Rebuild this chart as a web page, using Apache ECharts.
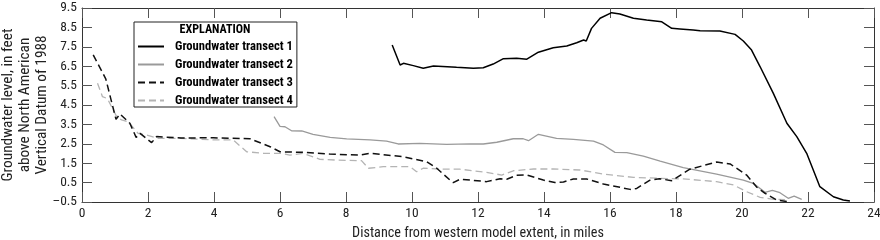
<!DOCTYPE html>
<html><head><meta charset="utf-8">
<script src="https://cdn.jsdelivr.net/npm/echarts@6/dist/echarts.min.js"></script>
<style>html,body{margin:0;padding:0;background:#fff}#c{width:880px;height:240px}</style>
</head><body><div id="c"></div>
<script>
const seriesNames = ['Groundwater transect 1','Groundwater transect 2','Groundwater transect 3','Groundwater transect 4'];
const transect1 = [[9.40,7.59],[9.64,6.56],[9.74,6.65],[10.04,6.53],[10.34,6.39],[10.65,6.51],[11.35,6.44],[11.86,6.39],[12.16,6.42],[12.46,6.61],[12.77,6.89],[13.17,6.91],[13.48,6.86],[13.83,7.22],[14.28,7.45],[14.69,7.54],[14.99,7.71],[15.20,7.85],[15.28,7.80],[15.44,8.45],[15.70,8.97],[16.05,9.26],[16.30,9.19],[16.71,8.97],[17.11,8.88],[17.57,8.79],[17.87,8.45],[18.12,8.42],[18.52,8.37],[18.73,8.33],[19.33,8.31],[19.79,8.14],[20.04,7.80],[20.29,7.33],[20.55,6.47],[20.95,5.10],[21.36,3.56],[21.66,2.87],[21.96,2.01],[22.36,0.29],[22.77,-0.23],[23.07,-0.40],[23.27,-0.45]];
const transect2 = [[5.82,3.90],[6.00,3.40],[6.15,3.38],[6.35,3.17],[6.66,3.16],[7.00,2.99],[7.52,2.83],[8.02,2.75],[8.73,2.70],[9.23,2.64],[9.58,2.49],[10.24,2.52],[11.05,2.47],[11.76,2.50],[12.16,2.49],[12.57,2.58],[13.07,2.76],[13.37,2.76],[13.53,2.66],[13.83,2.99],[14.38,2.78],[14.89,2.73],[15.50,2.64],[15.80,2.44],[16.15,2.06],[16.51,2.04],[17.01,1.87],[17.52,1.61],[18.22,1.27],[19.23,0.94],[20.04,0.63],[20.34,0.46],[20.70,0.00],[20.92,0.10],[21.15,-0.02],[21.40,-0.31],[21.58,-0.20],[21.81,-0.36]];
const transect3 = [[0.34,7.08],[0.72,5.85],[1.03,3.76],[1.15,4.04],[1.45,3.56],[1.64,2.83],[1.76,3.04],[2.11,2.56],[2.26,2.87],[3.00,2.80],[3.98,2.81],[5.09,2.76],[5.70,2.35],[6.00,2.09],[6.70,2.06],[7.50,1.97],[8.42,1.92],[8.73,2.01],[9.74,1.83],[10.44,1.58],[10.75,1.24],[11.15,0.63],[11.25,0.50],[11.45,0.67],[11.76,0.63],[12.26,0.55],[12.67,0.70],[12.87,0.67],[13.17,0.88],[13.48,0.89],[13.98,0.63],[14.33,0.50],[14.59,0.53],[14.89,0.69],[15.29,0.69],[15.80,0.43],[16.61,0.15],[16.81,0.20],[17.20,0.62],[17.50,0.70],[17.87,0.60],[18.42,1.19],[19.23,1.56],[19.64,1.46],[20.14,0.89],[20.45,0.26],[20.70,-0.05],[21.05,-0.40],[21.40,-0.48]];
const transect4 = [[0.47,5.62],[0.62,4.93],[0.77,4.83],[1.05,3.90],[1.20,3.73],[1.40,3.64],[1.70,3.04],[1.96,2.95],[2.31,2.78],[2.97,2.78],[3.98,2.70],[4.58,2.70],[4.99,2.09],[5.50,2.01],[6.00,2.01],[6.30,1.92],[6.70,2.01],[7.21,1.70],[7.72,1.66],[8.47,1.63],[8.68,1.24],[9.13,1.32],[9.94,1.32],[10.14,1.06],[10.34,1.24],[10.95,1.19],[11.45,1.19],[12.26,1.03],[12.72,0.89],[13.07,1.11],[13.68,1.20],[14.28,1.20],[15.09,1.15],[15.80,0.94],[16.71,0.77],[17.52,0.72],[18.22,0.69],[19.23,0.55],[19.74,0.38],[20.14,0.03],[20.55,-0.26],[20.95,-0.36],[21.30,-0.38]];
const yTickValues = [-0.5,0.5,1.5,2.5,3.5,4.5,5.5,6.5,7.5,8.5,9.5];
const yTickLabels = ['\u20130.5','0.5','1.5','2.5','3.5','4.5','5.5','6.5','7.5','8.5','9.5'];
const xAxisTitle = 'Distance from western model extent, in miles';
const yAxisTitle = 'Groundwater level, in feet\nabove North American\nVertical Datum of 1988';
const legendTitle = 'EXPLANATION';

// pick an installed (preferably condensed) font and size text to the reference widths
const cv = document.createElement('canvas').getContext('2d');
function has(f){
  const s='Groundwater mmiilW 0123';
  cv.font='100px monospace'; const a=cv.measureText(s).width;
  cv.font='100px "'+f+'", monospace'; return Math.abs(cv.measureText(s).width-a)>0.5;
}
const fam = ['Liberation Sans Narrow','Roboto Condensed','DejaVu Sans Condensed','Liberation Sans','Arial'].find(has) || 'sans-serif';
const FONT = '"'+fam+'", sans-serif';
function fit(text, w, weight){ cv.font=(weight||'normal')+' 100px '+FONT; return 100*w/cv.measureText(text).width; }
const xTitleSize = fit(xAxisTitle, 252);
const tickSize = xTitleSize * 0.95;
const yNameSize = fit('Groundwater level, in feet', 153);
const legendSize = fit('Groundwater transect 1', 118, 'bold');
const titleSize = fit(legendTitle, 71, 'bold');

const chart = echarts.init(document.getElementById('c'), null, {renderer:'canvas'});
const axisLine = {show:true, onZero:false, lineStyle:{color:'#333', width:1}};
const tick = {show:true, inside:true, length:10, lineStyle:{color:'#555', width:1}};
function xAx(pos, showLabel){
  return {type:'value', position:pos, min:0, max:24, interval:2,
    axisLine:axisLine, axisTick:tick, splitLine:{show:false},
    axisLabel:{show:showLabel, margin:5, fontSize:tickSize, color:'#222', fontFamily:FONT},
    name: showLabel ? xAxisTitle : '', nameLocation:'middle', nameGap:24, nameMoveOverlap:false,
    nameTextStyle:{fontSize:xTitleSize, color:'#222', fontFamily:FONT}};
}
function yAx(pos, showLabel){
  return {type:'value', position:pos, min:-0.5, max:9.5,
    axisLine:axisLine, splitLine:{show:false},
    axisTick:Object.assign({customValues:yTickValues}, tick),
    axisLabel:{show:showLabel, customValues:yTickValues, margin:5, fontSize:tickSize, color:'#222', fontFamily:FONT,
      formatter:v=>{const i=yTickValues.findIndex(t=>Math.abs(t-v)<1e-6); return i>=0?yTickLabels[i]:'';}},
    name: showLabel ? yAxisTitle : '', nameLocation:'middle', nameRotate:90, nameGap:31, nameMoveOverlap:false,
    nameTextStyle:{fontSize:yNameSize, lineHeight:17, color:'#222', fontFamily:FONT}};
}
const styles = [
  {color:'#000', width:1.5, type:'solid', z:5},
  {color:'#9a9a9a', width:1.3, type:'solid', z:3},
  {color:'#111', width:1.5, type:[7,4], z:4},
  {color:'#b4b4b4', width:1.3, type:[7,4], z:2}
];
const datas = [transect1, transect2, transect3, transect4];
chart.setOption({
  animation:false,
  grid:{left:82, right:6, top:8, bottom:38, containLabel:false, outerBoundsMode:'none'},
  xAxis:[xAx('bottom', true), xAx('top', false)],
  yAxis:[yAx('left', true), yAx('right', false)],
  legend:{data:seriesNames, orient:'vertical', left:134, top:22, padding:[18,4,0,3],
    itemWidth:26, itemHeight:12, itemGap:5, backgroundColor:'#fff', borderColor:'#222', borderWidth:1,
    itemStyle:{opacity:0},
    textStyle:{fontFamily:FONT, fontWeight:'bold', fontSize:legendSize, lineHeight:12, color:'#000', padding:[0,0,0,6]},
    selectedMode:false, z:10},
  graphic:[{type:'text', x:215, y:30, z:100,
    style:{text:legendTitle, font:'bold '+titleSize.toFixed(2)+'px '+FONT, fill:'#000', align:'center', verticalAlign:'middle'}}],
  series: datas.map((d,i)=>({name:seriesNames[i], type:'line', data:d, symbol:'none', showSymbol:false,
    silent:true, z:styles[i].z,
    lineStyle:{color:styles[i].color, width:styles[i].width, type:styles[i].type},
    itemStyle:{color:styles[i].color}}))
});
</script></body></html>
